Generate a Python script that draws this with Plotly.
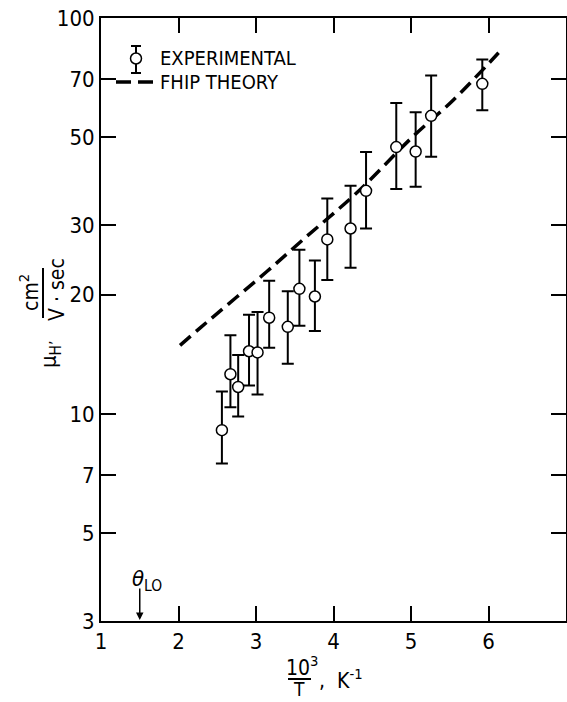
import plotly.graph_objects as go
import math

# ---- data ----
x_exp = [2.56, 2.67, 2.77, 2.91, 3.02, 3.17, 3.41, 3.56, 3.76, 3.92, 4.22, 4.42, 4.81, 5.06, 5.26, 5.92]
mu_exp = [9.1, 12.6, 11.7, 14.4, 14.3, 17.5, 16.6, 20.7, 19.8, 27.6, 29.4, 36.6, 47.2, 46.0, 56.6, 68.2]
mu_hi = [11.4, 15.8, 14.1, 17.8, 18.1, 21.7, 20.4, 26.0, 24.4, 35.0, 37.7, 45.9, 61.0, 57.8, 71.6, 78.6]
mu_lo = [7.5, 10.4, 9.85, 11.8, 11.2, 14.7, 13.4, 16.7, 16.2, 21.8, 23.4, 29.4, 37.0, 37.5, 44.6, 58.5]

x_theory = [2.02, 2.28, 3.14, 3.61, 4.30, 5.03, 5.55, 6.13]
mu_theory = [14.9, 16.5, 22.9, 27.6, 36.2, 50.3, 62.2, 81.7]

x_ticks = [1, 2, 3, 4, 5, 6, 7]
y_ticks = [3, 5, 7, 10, 20, 30, 50, 70, 100]
theta_lo = 1.5

FONT = "DejaVu Sans Condensed, Liberation Sans Narrow, sans-serif"

W, H = 567, 702
ML, MR, MT, MB = 101, 1, 18, 81
PW, PH = W - ML - MR, H - MT - MB


def px(xp):
    return (xp - ML) / PW


def py(yp):
    return (H - MB - yp) / PH


fig = go.Figure()

fig.add_trace(go.Scatter(
    x=x_theory, y=mu_theory, mode="lines",
    line=dict(color="black", width=3.5, dash="14px,7px", shape="spline"),
    name="FHIP THEORY", showlegend=False, hoverinfo="skip",
))

fig.add_trace(go.Scatter(
    x=x_exp, y=mu_exp, mode="markers",
    marker=dict(symbol="circle", size=11, color="white", line=dict(color="black", width=1.5)),
    error_y=dict(type="data", symmetric=False,
                 array=[h - m for h, m in zip(mu_hi, mu_exp)],
                 arrayminus=[m - l for m, l in zip(mu_exp, mu_lo)],
                 color="black", thickness=2, width=6),
    name="EXPERIMENTAL", showlegend=False,
))

axis_common = dict(
    showline=True, linecolor="black", linewidth=2, mirror="ticks",
    ticks="inside", ticklen=15, tickwidth=1.5, tickcolor="black",
    showgrid=False, zeroline=False,
    tickfont=dict(family=FONT, size=22, color="black"),
)

fig.update_xaxes(range=[1, 7], tickvals=x_ticks, ticktext=[str(v) for v in x_ticks], **axis_common)
fig.update_yaxes(type="log", range=[math.log10(3), 2], tickvals=y_ticks,
                 ticktext=[str(v) for v in y_ticks], **axis_common)

ann = []
shapes = []

# legend (custom)
ann.append(dict(xref="paper", yref="paper", x=px(158), y=py(58), text="EXPERIMENTAL",
                showarrow=False, xanchor="left", yanchor="middle",
                font=dict(family=FONT, size=20, color="black")))
ann.append(dict(xref="paper", yref="paper", x=px(158), y=py(82), text="FHIP THEORY",
                showarrow=False, xanchor="left", yanchor="middle",
                font=dict(family=FONT, size=20, color="black")))
shapes.append(dict(type="line", xref="paper", yref="paper", x0=px(136), x1=px(136), y0=py(46), y1=py(73),
                   line=dict(color="black", width=2)))
shapes.append(dict(type="line", xref="paper", yref="paper", x0=px(131), x1=px(141), y0=py(46), y1=py(46),
                   line=dict(color="black", width=2)))
shapes.append(dict(type="line", xref="paper", yref="paper", x0=px(131), x1=px(141), y0=py(73), y1=py(73),
                   line=dict(color="black", width=2)))
shapes.append(dict(type="circle", xref="paper", yref="paper", x0=px(130.5), x1=px(141.5), y0=py(64), y1=py(53),
                   line=dict(color="black", width=1.5), fillcolor="white"))
shapes.append(dict(type="line", xref="paper", yref="paper", x0=px(116), x1=px(156), y0=py(82), y1=py(82),
                   line=dict(color="black", width=3.5, dash="15px,7px")))

# y-axis title
ann.append(dict(xref="paper", yref="paper", x=px(50), y=py(355), text="μ<sub>H’</sub>",
                showarrow=False, textangle=-90, xanchor="center", yanchor="middle",
                font=dict(family=FONT, size=22, color="black")))
ann.append(dict(xref="paper", yref="paper", x=px(29), y=py(293), text="cm<sup>2</sup>",
                showarrow=False, textangle=-90, xanchor="center", yanchor="middle",
                font=dict(family=FONT, size=21, color="black")))
ann.append(dict(xref="paper", yref="paper", x=px(57), y=py(290), text="V · sec",
                showarrow=False, textangle=-90, xanchor="center", yanchor="middle",
                font=dict(family=FONT, size=21, color="black")))
shapes.append(dict(type="line", xref="paper", yref="paper", x0=px(43), x1=px(43), y0=py(268), y1=py(318),
                   line=dict(color="black", width=2)))

# x-axis title
ann.append(dict(xref="paper", yref="paper", x=px(302), y=py(666), text="10<sup>3</sup>",
                showarrow=False, xanchor="center", yanchor="middle",
                font=dict(family=FONT, size=21, color="black")))
shapes.append(dict(type="line", xref="paper", yref="paper", x0=px(288), x1=px(311), y0=py(679), y1=py(679),
                   line=dict(color="black", width=2)))
ann.append(dict(xref="paper", yref="paper", x=px(299), y=py(689), text="T",
                showarrow=False, xanchor="center", yanchor="middle",
                font=dict(family=FONT, size=19, color="black")))
ann.append(dict(xref="paper", yref="paper", x=px(317), y=py(679), text=",  K<sup>-1</sup>",
                showarrow=False, xanchor="left", yanchor="middle",
                font=dict(family=FONT, size=21, color="black")))

# theta_LO marker
ann.append(dict(x=theta_lo, y=math.log10(3), xref="x", yref="y", text="",
                showarrow=True, arrowhead=2, arrowsize=1, arrowwidth=1.5, arrowcolor="black",
                ax=0, ay=-34, standoff=1))
ann.append(dict(xref="x", yref="paper", x=theta_lo, y=py(580), text="<i>θ</i><sub>LO</sub>",
                showarrow=False, xanchor="left", yanchor="middle", xshift=-10,
                font=dict(family=FONT, size=22, color="black")))

fig.update_layout(
    width=W, height=H,
    margin=dict(l=ML, r=MR, t=MT, b=MB, autoexpand=False),
    paper_bgcolor="white", plot_bgcolor="white",
    showlegend=False,
    annotations=ann, shapes=shapes,
)

fig.write_html("out.html")
